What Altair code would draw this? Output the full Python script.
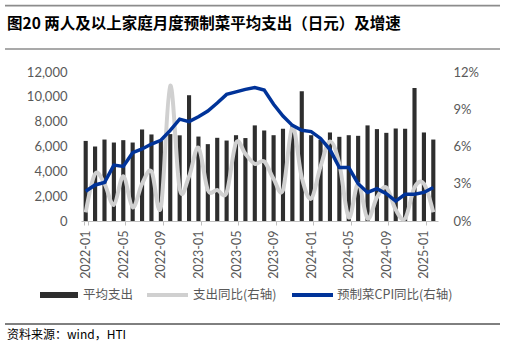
import altair as alt
import pandas as pd

months = [
    "2022-01","2022-02","2022-03","2022-04","2022-05","2022-06","2022-07","2022-08","2022-09","2022-10","2022-11","2022-12",
    "2023-01","2023-02","2023-03","2023-04","2023-05","2023-06","2023-07","2023-08","2023-09","2023-10","2023-11","2023-12",
    "2024-01","2024-02","2024-03","2024-04","2024-05","2024-06","2024-07","2024-08","2024-09","2024-10","2024-11","2024-12",
    "2025-01","2025-02",
]
spend = [6450, 6000, 6560, 6320, 6510, 6320, 7370, 6970, 6450, 7000, 6900, 10130,
         6800, 6190, 6700, 6480, 6910, 6680, 7700, 7290, 6910, 7430, 7650, 10440,
         6910, 6550, 7130, 6780, 6910, 6860, 7700, 7400, 7100, 7450, 7430, 10710,
         7130, 6560]
yoy_pct = [0.7, 3.8, 3.0, 1.3, 3.6, 1.1, 3.0, 4.0, 1.1, 10.9, 2.6, 3.6,
           5.9, 2.5, 2.5, 2.3, 6.3, 5.4, 4.6, 4.8, 3.4, 2.5, 7.6, 3.5,
           1.8, 4.4, 6.4, 4.6, 0.3, 3.0, 0.2, 1.9, 2.7, 0.9, 0.2, 2.7,
           3.0, 0.7]
cpi_pct = [2.4, 2.9, 3.1, 4.5, 4.4, 5.5, 5.8, 6.2, 6.5, 7.3, 8.2, 8.0,
           8.4, 8.85, 9.5, 10.2, 10.4, 10.6, 10.75, 10.55, 9.4, 8.45, 7.7, 7.3,
           7.2, 6.65, 5.75, 4.3, 4.3, 3.0, 2.3, 2.6, 2.2, 1.6, 2.15, 2.15,
           2.3, 2.7]
tick_labels = ["2022-01","2022-05","2022-09","2023-01","2023-05","2023-09",
               "2024-01","2024-05","2024-09","2025-01"]
title_text = "图20 两人及以上家庭月度预制菜平均支出（日元）及增速"
source_text = "资料来源：wind，HTI"
legend_labels = ["平均支出", "支出同比(右轴)", "预制菜CPI同比(右轴)"]

df = pd.DataFrame({
    "month": months,
    "spend": spend,
    "yoy": [v / 100 for v in yoy_pct],
    "cpi": [v / 100 for v in cpi_pct],
})

NUM_FONT = "Lato"
CJK = "Noto Sans CJK SC"
AX_COL = "#595959"

x_enc = alt.X(
    "month:N", sort=months, title=None,
    scale=alt.Scale(paddingInner=0.56, paddingOuter=0.28),
    axis=alt.Axis(values=tick_labels, labelAngle=270, labelFont=NUM_FONT, labelFontSize=12.5,
                  labelColor=AX_COL, tickBand="extent", tickSize=4, tickColor="#bfbfbf",
                  domainColor="#bfbfbf", labelPadding=5, grid=False),
)

base = alt.Chart(df)

bars = base.mark_bar(color="#2e2e2e").encode(
    x=x_enc,
    y=alt.Y("spend:Q", title=None,
            scale=alt.Scale(domain=[0, 12000], nice=False),
            axis=alt.Axis(values=[0, 2000, 4000, 6000, 8000, 10000, 12000], format=",.0f",
                          labelFont=NUM_FONT, labelFontSize=13, labelColor=AX_COL,
                          domain=False, ticks=False, grid=False, labelPadding=14)),
)

gray = base.mark_line(color="#d0d0d0", strokeWidth=4, interpolate="cardinal").encode(
    x=alt.X("month:N", sort=months),
    y=alt.Y("yoy:Q", title=None,
            scale=alt.Scale(domain=[0, 0.12], nice=False),
            axis=alt.Axis(orient="right", values=[0, 0.03, 0.06, 0.09, 0.12], format=".0%",
                          labelFont=NUM_FONT, labelFontSize=13, labelColor=AX_COL,
                          domain=False, ticks=False, grid=False, labelPadding=15)),
)

blue = base.mark_line(color="#003399", strokeWidth=3.5).encode(
    x=alt.X("month:N", sort=months),
    y=alt.Y("cpi:Q", title=None, scale=alt.Scale(domain=[0, 0.12], nice=False), axis=None),
)

one = alt.Data(values=[{"a": 1}])

def rule(x1, x2, y, color, w):
    return alt.Chart(one).mark_rule(color=color, strokeWidth=w).encode(
        x=alt.value(x1), x2=alt.value(x2), y=alt.value(y))

def txt(s, x, y, size, color="#000000", font=CJK, weight="normal"):
    return alt.Chart(alt.Data(values=[{"t": s}])).mark_text(
        align="left", baseline="middle", font=font, fontSize=size, color=color, fontWeight=weight
    ).encode(x=alt.value(x), y=alt.value(y), text="t:N")

decor = [
    rule(-76, 419, -66.3, "#8c8c8c", 1.7),
    rule(-76, 419, -23, "#8c8c8c", 1.7),
    txt(title_text, -74, -48.5, 15.5, weight="bold"),
    rule(-76, 419, 252, "#000000", 1),
    txt(source_text, -74, 263, 12),
    alt.Chart(one).mark_rect(color="#2e2e2e").encode(
        x=alt.value(-41), x2=alt.value(-3), y=alt.value(220), y2=alt.value(226)),
    txt(legend_labels[0], 2, 223, 12.5, color=AX_COL),
    rule(66, 107, 223, "#d0d0d0", 4),
    txt(legend_labels[1], 112, 223, 12.5, color=AX_COL),
    rule(211, 252, 223, "#003399", 4),
    txt(legend_labels[2], 256, 223, 12.5, color=AX_COL),
]

chart = alt.layer(bars, gray, blue, *decor).resolve_scale(y="independent").properties(
    width=357, height=149,
    autosize=alt.AutoSizeParams(type="none"),
    padding={"left": 81, "top": 72, "right": 68, "bottom": 127},
    background="white",
).configure_view(stroke=None)

chart.save("out.html", embed_options={"renderer": "svg", "actions": False})
